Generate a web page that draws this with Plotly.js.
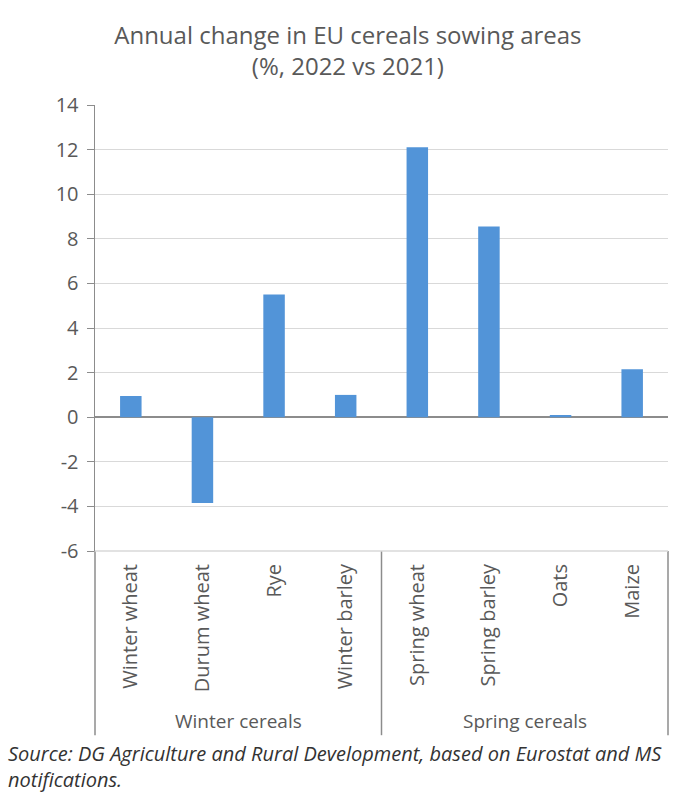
<!DOCTYPE html>
<html>
<head>
<meta charset="utf-8">
<script src="https://cdn.plot.ly/plotly-3.0.1.min.js"></script>
<style>html,body{margin:0;padding:0;background:#fff;}#chart{width:700px;height:803px;}</style>
</head>
<body>
<div id="chart"></div>
<script>
const categories = ["Winter wheat", "Durum wheat", "Rye", "Winter barley", "Spring wheat", "Spring barley", "Oats", "Maize"];
const changes = [0.95, -3.85, 5.5, 1.0, 12.1, 8.55, 0.1, 2.15];
const groupLabels = ["Winter cereals", "Spring cereals"];
const yTicks = [-6, -4, -2, 0, 2, 4, 6, 8, 10, 12, 14];

const font = "Open Sans, Lato, sans-serif";
const txt = "#595959";

const trace = {
  type: "bar",
  x: categories,
  y: changes,
  marker: {color: "#5294d8"},
  width: 0.3,
  hoverinfo: "x+y"
};

const layout = {
  width: 700, height: 803,
  margin: {l: 95, r: 32, t: 105, b: 252},
  paper_bgcolor: "#fff", plot_bgcolor: "#fff",
  showlegend: false,
  font: {family: font, color: txt},
  title: {
    text: "Annual change in EU cereals sowing areas<br>(%, 2022 vs 2021)",
    font: {size: 24, color: txt, family: font},
    x: 0.497, xanchor: "center", yref: "container", y: 0.945, yanchor: "middle"
  },
  xaxis: {
    type: "category",
    tickangle: -90,
    tickfont: {size: 20, color: txt},
    ticklabelstandoff: 8,
    showgrid: false,
    showline: false,
    ticks: "",
    automargin: false
  },
  yaxis: {
    range: [-6, 14],
    tickvals: yTicks,
    ticktext: yTicks.map(String),
    tickfont: {size: 20, color: txt},
    ticklabelstandoff: 4,
    showgrid: true, gridcolor: "#d9d9d9", gridwidth: 1,
    zeroline: true, zerolinecolor: "#8c8c8c", zerolinewidth: 1.5,
    showline: true, linecolor: "#8c8c8c", linewidth: 1.5,
    ticks: "outside", ticklen: 7, tickcolor: "#8c8c8c",
    automargin: false
  },
  shapes: [
    {type: "line", xref: "paper", yref: "paper", x0: 0, x1: 0, y0: 0, y1: -0.413, line: {color: "#8c8c8c", width: 1.5}},
    {type: "line", xref: "paper", yref: "paper", x0: 0.5, x1: 0.5, y0: 0, y1: -0.413, line: {color: "#8c8c8c", width: 1.5}},
    {type: "line", xref: "paper", yref: "paper", x0: 1, x1: 1, y0: 0, y1: -0.413, line: {color: "#8c8c8c", width: 1.5}},
    {type: "line", xref: "paper", yref: "paper", x0: 0, x1: 1, y0: 0, y1: 0, line: {color: "#d9d9d9", width: 1.5}}
  ],
  annotations: [
    {text: groupLabels[0], xref: "paper", yref: "paper", x: 0.25, y: -0.382, xanchor: "center", yanchor: "middle", showarrow: false, font: {size: 19, color: txt}},
    {text: groupLabels[1], xref: "paper", yref: "paper", x: 0.75, y: -0.382, xanchor: "center", yanchor: "middle", showarrow: false, font: {size: 19, color: txt}},
    {text: "<i>Source: DG Agriculture and Rural Development, based on Eurostat and MS<br>notifications.</i>",
     xref: "paper", yref: "paper", x: -0.155, y: -0.42, xanchor: "left", yanchor: "top", align: "left", showarrow: false,
     font: {size: 20, color: "#333"}}
  ]
};

Plotly.newPlot("chart", [trace], layout, {displayModeBar: false, staticPlot: true});
</script>
</body>
</html>
